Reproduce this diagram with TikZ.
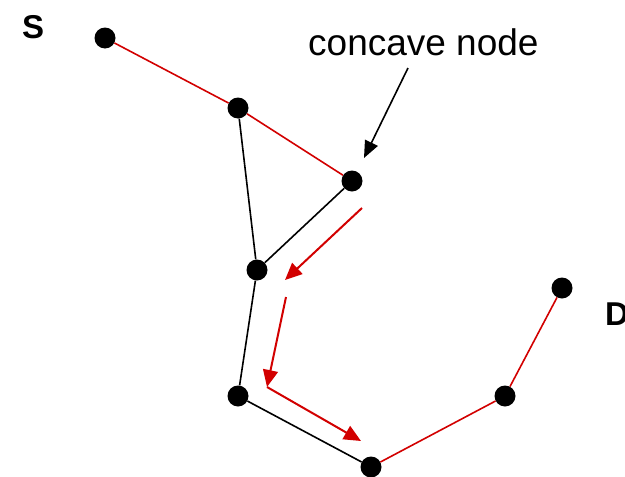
\documentclass[tikz,border=0pt]{standalone}
\usepackage{fontspec}
\setmainfont{Liberation Sans}
\usetikzlibrary{arrows.meta}
\definecolor{pathred}{RGB}{210,0,0}
\tikzset{
  dot/.style={circle,fill=black,inner sep=0pt,minimum size=21pt},
  rededge/.style={pathred,line width=1.6pt},
  blackedge/.style={black,line width=1.6pt},
  redarrow/.style={pathred,line width=2pt,-{Triangle[length=17pt,width=15pt]}},
  notearrow/.style={black,line width=1.6pt,-{Triangle[length=17pt,width=14pt]}},
  lbl/.style={font=\fontsize{37pt}{44pt}\selectfont,inner sep=0pt,anchor=base west},
  blbl/.style={font=\fontsize{33pt}{39pt}\selectfont\bfseries,inner sep=0pt,anchor=base west}
}
\begin{document}
\begin{tikzpicture}[x=1pt,y=-1pt]
\useasboundingbox (0,0) rectangle (625,477);
\node[dot] (n1) at (105,38) {};
\node[dot] (n2) at (238,108) {};
\node[dot] (n3) at (352,181) {};
\node[dot] (n4) at (257,270) {};
\node[dot] (n5) at (238,396) {};
\node[dot] (n6) at (371,467) {};
\node[dot] (n7) at (505,396) {};
\node[dot] (n8) at (562,288) {};
\draw[rededge] (n1) -- (n2);
\draw[rededge] (n2) -- (n3);
\draw[rededge] (n6) -- (n7);
\draw[rededge] (n7) -- (n8);
\draw[blackedge] (n2) -- (n4);
\draw[blackedge] (n3) -- (n4);
\draw[blackedge] (n4) -- (n5);
\draw[blackedge] (n5) -- (n6);
\coordinate (a1s) at (362,208);
\coordinate (a1e) at (285,280);
\coordinate (a2s) at (286,297);
\coordinate (a2e) at (267,387);
\coordinate (a3s) at (267,387);
\coordinate (a3e) at (361,441);
\draw[redarrow] (a1s) -- (a1e);
\draw[redarrow] (a2s) -- (a2e);
\draw[redarrow] (a3s) -- (a3e);
\node[lbl] (note) at (308,55) {concave node};
\coordinate (ns) at (408,68);
\coordinate (ne) at (364,158);
\draw[notearrow] (ns) -- (ne);
\node[blbl] (S) at (22,38) {S};
\node[blbl] (D) at (605,325) {D};
\end{tikzpicture}
\end{document}
